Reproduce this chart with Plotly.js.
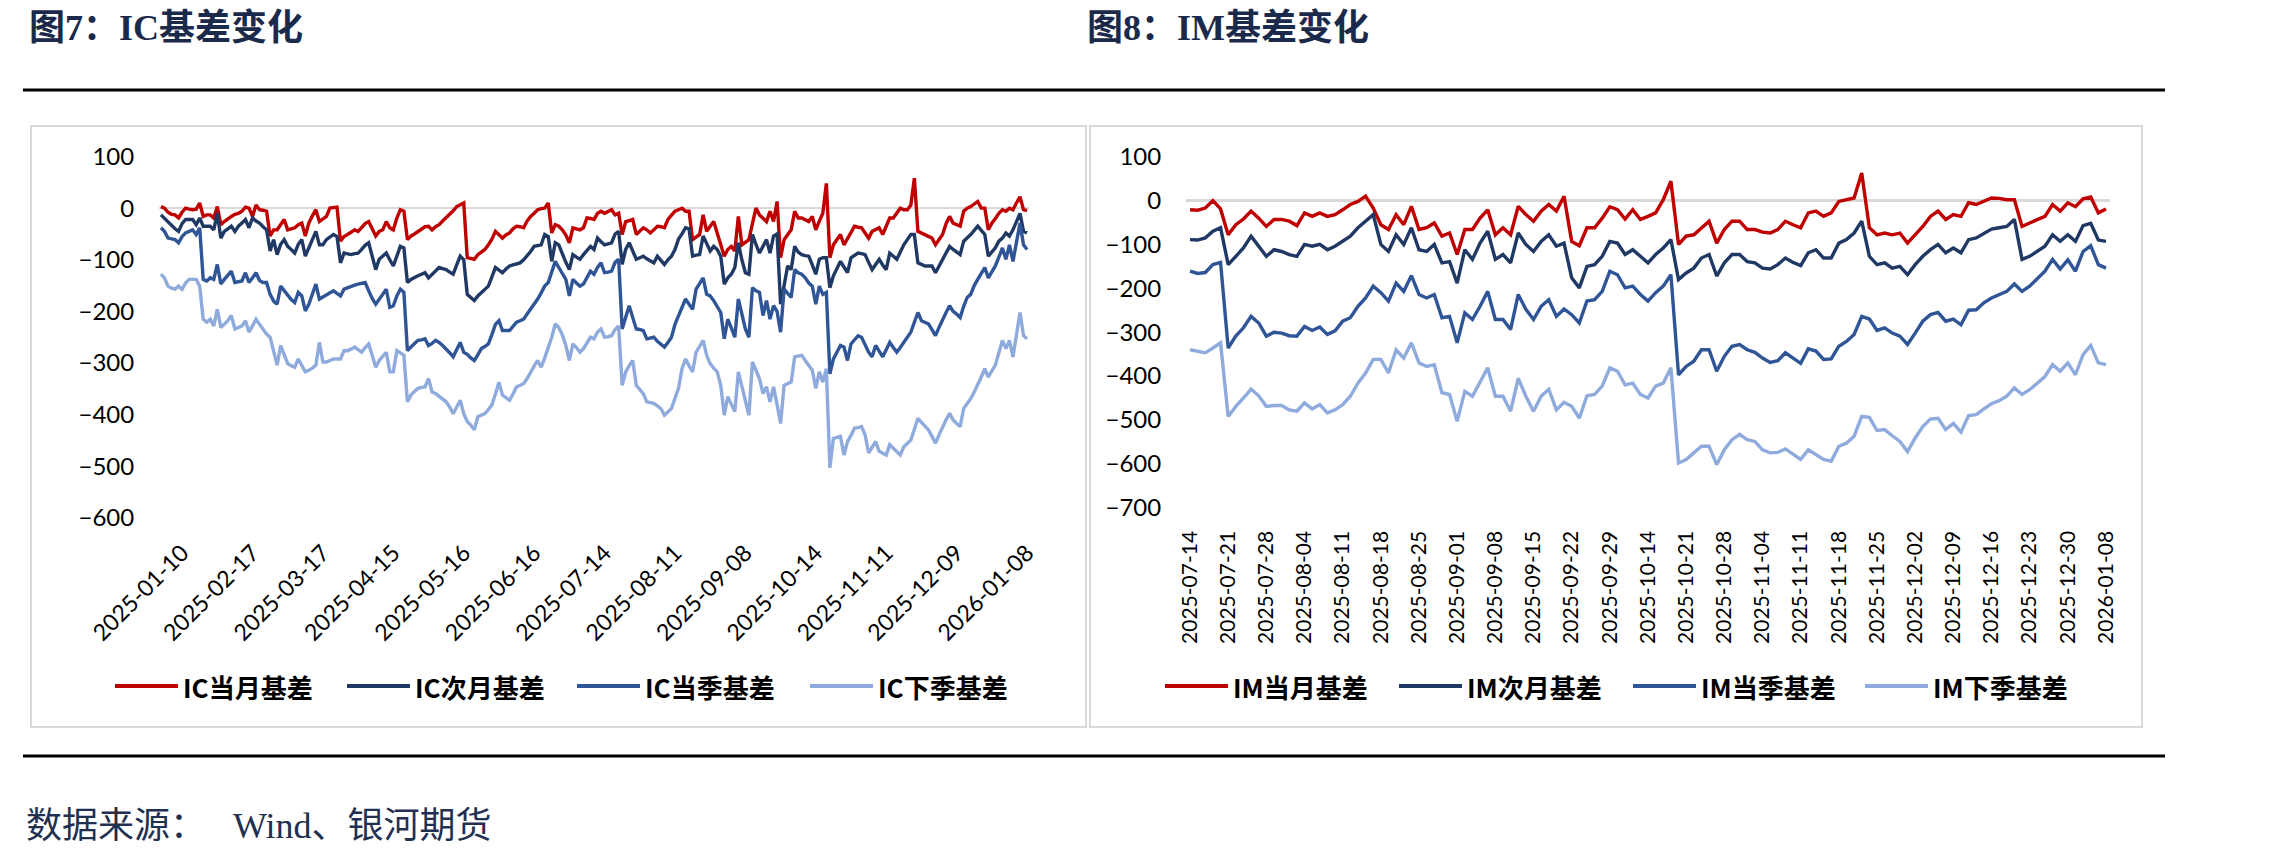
<!DOCTYPE html>
<html>
<head>
<meta charset="utf-8">
<script src="https://cdn.plot.ly/plotly-3.0.1.min.js"></script>
<style>
html,body{margin:0;padding:0;background:#fff;}
#chart{width:2287px;height:854px;}
</style>
</head>
<body>
<div id="chart"></div>
<script>
// ---------------- DATA ----------------
// Exchange holidays falling on weekdays (used to build the trading-day categories)
const HOLIDAYS = ['2025-01-01','2025-01-28','2025-01-29','2025-01-30','2025-01-31','2025-02-03','2025-02-04',
  '2025-04-04','2025-05-01','2025-05-02','2025-05-05','2025-06-02',
  '2025-10-01','2025-10-02','2025-10-03','2025-10-06','2025-10-07','2025-10-08',
  '2026-01-01','2026-01-02'];
const IC_START = '2025-01-02';
const IM_START = '2025-07-14';
const END_DATE = '2026-01-08';

const IC_TICKS = ['2025-01-10','2025-02-17','2025-03-17','2025-04-15','2025-05-16','2025-06-16','2025-07-14',
  '2025-08-11','2025-09-08','2025-10-14','2025-11-11','2025-12-09','2026-01-08'];
const IM_TICKS = ['2025-07-14','2025-07-21','2025-07-28','2025-08-04','2025-08-11','2025-08-18','2025-08-25',
  '2025-09-01','2025-09-08','2025-09-15','2025-09-22','2025-09-29','2025-10-14','2025-10-21','2025-10-28',
  '2025-11-04','2025-11-11','2025-11-18','2025-11-25','2025-12-02','2025-12-09','2025-12-16','2025-12-23',
  '2025-12-30','2026-01-08'];

const IC_NAMES = ['IC当月基差','IC次月基差','IC当季基差','IC下季基差'];
const IM_NAMES = ['IM当月基差','IM次月基差','IM当季基差','IM下季基差'];

const IC_DANGYUE = [3,0,-8,-12,-13,-19,-8,0,-2,-3,
 -2,10,-16,-13,-13,-19,3,-32,-26,-20,
 -16,-12,-10,-6,2,0,-16,6,-3,-4,
 -6,-54,-42,-42,-32,-22,-42,-40,-38,-32,
 -29,-54,-29,-15,-3,-26,-20,-16,0,1,
 2,-64,-55,-51,-46,-42,-45,-38,-30,-26,
 -40,-54,-45,-42,-26,-38,-42,-19,-3,-6,
 -61,-54,-50,-45,-40,-36,-35,-42,-36,-32,
 -25,-19,-13,-5,3,6,10,-96,-98,-99,
 -90,-84,-80,-71,-60,-45,-52,-58,-52,-48,
 -40,-35,-36,-38,-25,-16,-10,-3,-1,0,
 10,-48,-32,-35,-42,-52,-67,-38,-40,-42,
 -38,-19,-20,-22,-10,-6,-10,-6,-3,-13,
 -10,-51,-26,-24,-22,-51,-45,-38,-42,-48,
 -42,-35,-36,-38,-22,-14,-6,-3,0,-6,
 -6,-61,-55,-51,-13,-45,-35,-26,-48,-70,
 -93,-80,-74,-83,-16,-71,-66,-61,-30,0,
 -13,-20,-26,-6,-26,13,-96,-61,-50,-42,
 -6,-19,-19,-22,-26,-16,-42,-25,-10,48,
 -96,-71,-60,-51,-71,-60,-48,-35,-37,-38,
 -48,-58,-45,-42,-38,-51,-35,-19,-19,-10,
 0,-3,-3,6,58,-45,-48,-51,-54,-58,
 -71,-60,-51,-30,-16,-29,-32,-35,-6,0,
 3,8,13,0,0,-42,-29,-20,-10,-3,
 -6,0,-3,10,22,-3,-5];

const IC_CIYUE = [-13,-20,-26,-35,-40,-45,-30,-22,-22,-22,
 -32,-19,-35,-35,-35,-42,-10,-58,-45,-40,
 -35,-45,-35,-29,-22,-38,-19,-25,-29,-36,
 -42,-83,-61,-90,-70,-61,-74,-80,-87,-70,
 -61,-93,-77,-60,-45,-71,-71,-61,-55,-51,
 -55,-106,-87,-88,-90,-88,-87,-80,-72,-67,
 -95,-119,-99,-92,-87,-100,-112,-93,-74,-77,
 -144,-138,-134,-131,-128,-125,-135,-128,-122,-115,
 -117,-119,-124,-128,-110,-93,-100,-167,-173,-179,
 -170,-163,-157,-151,-133,-115,-120,-125,-118,-112,
 -110,-108,-106,-100,-93,-84,-74,-72,-71,-51,
 -55,-103,-67,-71,-90,-105,-119,-90,-95,-99,
 -90,-82,-74,-80,-58,-65,-71,-69,-67,-50,
 -45,-109,-80,-67,-85,-99,-96,-93,-98,-102,
 -106,-93,-100,-109,-100,-93,-80,-60,-50,-38,
 -40,-93,-91,-90,-54,-70,-83,-74,-80,-93,
 -147,-135,-128,-115,-67,-100,-125,-128,-51,-70,
 -87,-74,-61,-87,-54,-50,-186,-150,-112,-119,
 -74,-85,-90,-92,-93,-110,-128,-99,-96,-96,
 -154,-131,-117,-103,-114,-125,-96,-92,-87,-88,
 -90,-105,-119,-109,-99,-110,-119,-87,-93,-99,
 -85,-71,-61,-51,-51,-106,-109,-112,-112,-112,
 -125,-112,-99,-86,-74,-80,-85,-90,-64,-58,
 -51,-43,-35,-43,-51,-93,-85,-77,-64,-58,
 -48,-54,-42,-26,-10,-45,-48];

const IC_DANGJI = [-38,-45,-58,-60,-61,-67,-55,-48,-45,-42,
 -51,-38,-138,-141,-135,-138,-109,-147,-138,-130,
 -122,-144,-142,-141,-125,-144,-135,-125,-140,-144,
 -144,-167,-180,-186,-151,-160,-170,-177,-183,-163,
 -170,-199,-186,-165,-147,-176,-172,-167,-163,-160,
 -165,-170,-157,-154,-151,-149,-147,-146,-144,-160,
 -175,-186,-176,-167,-157,-192,-189,-170,-157,-163,
 -276,-269,-262,-256,-255,-253,-266,-262,-256,-260,
 -266,-272,-280,-288,-274,-260,-279,-283,-290,-295,
 -284,-272,-268,-263,-245,-225,-218,-237,-237,-237,
 -229,-221,-218,-215,-205,-196,-186,-176,-164,-151,
 -144,-125,-103,-115,-126,-138,-170,-138,-145,-151,
 -147,-135,-122,-128,-115,-106,-125,-124,-122,-105,
 -99,-234,-210,-189,-212,-234,-235,-237,-253,-251,
 -250,-258,-263,-269,-260,-250,-225,-208,-190,-176,
 -186,-196,-157,-146,-135,-167,-170,-179,-190,-202,
 -253,-215,-232,-250,-176,-205,-234,-250,-154,-160,
 -163,-208,-179,-215,-189,-200,-240,-157,-165,-173,
 -119,-125,-128,-135,-145,-151,-186,-151,-167,-163,
 -321,-292,-279,-266,-269,-295,-263,-255,-247,-250,
 -265,-279,-288,-266,-277,-288,-274,-260,-270,-279,
 -270,-260,-250,-240,-221,-202,-218,-221,-224,-235,
 -247,-231,-215,-202,-189,-200,-205,-212,-190,-173,
 -167,-150,-138,-125,-115,-135,-124,-112,-95,-77,
 -99,-71,-103,-65,-29,-71,-80];

const IC_XIAJI = [-128,-135,-151,-155,-157,-151,-157,-145,-138,-138,
 -138,-151,-215,-221,-215,-228,-196,-231,-225,-218,
 -208,-234,-231,-228,-218,-240,-228,-215,-225,-234,
 -244,-250,-275,-304,-266,-283,-301,-305,-308,-292,
 -305,-317,-314,-310,-304,-260,-298,-298,-295,-292,
 -292,-292,-276,-276,-273,-269,-274,-279,-270,-263,
 -285,-308,-295,-287,-279,-317,-317,-276,-280,-285,
 -375,-362,-355,-349,-347,-346,-330,-356,-359,-365,
 -369,-375,-385,-398,-385,-372,-398,-413,-420,-429,
 -404,-401,-398,-390,-381,-360,-337,-362,-367,-372,
 -360,-346,-343,-340,-330,-317,-306,-295,-308,-290,
 -272,-250,-224,-231,-245,-266,-295,-263,-270,-279,
 -272,-261,-250,-253,-240,-234,-250,-249,-247,-235,
 -228,-343,-317,-305,-295,-343,-350,-359,-375,-377,
 -378,-383,-388,-401,-395,-388,-368,-349,-311,-292,
 -305,-317,-279,-268,-256,-285,-301,-310,-317,-343,
 -401,-365,-380,-394,-317,-346,-375,-401,-298,-314,
 -330,-359,-346,-375,-346,-380,-417,-343,-340,-337,
 -288,-286,-285,-295,-305,-314,-349,-317,-337,-311,
 -503,-446,-444,-442,-478,-452,-440,-426,-425,-423,
 -439,-474,-463,-452,-471,-475,-478,-458,-465,-471,
 -478,-462,-455,-449,-428,-407,-415,-423,-429,-442,
 -455,-439,-423,-410,-397,-410,-417,-423,-388,-378,
 -369,-356,-343,-327,-311,-327,-315,-304,-280,-256,
 -272,-256,-288,-245,-202,-247,-253];

const IM_DANGYUE = [-21,-22,-17,0,-19,-78,-55,-42,-24,-40,
 -59,-43,-43,-47,-57,-28,-36,-28,-36,-32,
 -21,-9,-2,10,-17,-55,-66,-32,-55,-13,
 -66,-62,-51,-81,-74,-123,-66,-66,-40,-21,
 -78,-62,-78,-13,-32,-47,-24,-9,-24,10,
 -93,-103,-62,-62,-40,-14,-21,-42,-21,-43,
 -36,-28,2,44,-100,-81,-78,-62,-47,-97,
 -66,-47,-47,-66,-66,-72,-74,-66,-47,-55,
 -62,-28,-24,-36,-28,-2,2,6,63,-62,
 -78,-74,-78,-74,-97,-78,-59,-36,-24,-43,
 -32,-36,-5,-9,-2,6,5,2,2,-59,
 -51,-43,-36,-9,-24,-5,-14,4,8,-28,
 -19];

const IM_CIYUE = [-89,-90,-85,-70,-62,-146,-127,-108,-81,-104,
 -127,-112,-116,-123,-127,-100,-104,-100,-112,-104,
 -93,-81,-62,-47,-32,-100,-116,-78,-100,-62,
 -112,-116,-100,-142,-139,-188,-112,-134,-97,-70,
 -134,-123,-142,-74,-100,-116,-93,-78,-104,-97,
 -176,-199,-150,-146,-127,-93,-97,-123,-112,-127,
 -142,-123,-108,-89,-180,-165,-154,-131,-123,-172,
 -142,-123,-123,-139,-142,-154,-156,-146,-131,-141,
 -148,-119,-112,-131,-131,-97,-89,-74,-47,-127,
 -146,-142,-154,-150,-169,-146,-127,-112,-100,-119,
 -108,-119,-89,-85,-74,-65,-62,-59,-43,-134,
 -127,-116,-104,-78,-93,-78,-93,-57,-52,-90,
 -93];

const IM_DANGJI = [-161,-166,-164,-146,-141,-336,-309,-290,-264,-279,
 -309,-300,-302,-308,-309,-287,-296,-288,-305,-297,
 -275,-267,-241,-222,-195,-210,-229,-188,-207,-171,
 -214,-222,-214,-267,-264,-324,-256,-271,-241,-207,
 -271,-271,-294,-214,-248,-271,-241,-226,-264,-247,
 -260,-279,-229,-226,-207,-161,-169,-199,-195,-214,
 -229,-210,-195,-169,-397,-378,-366,-340,-340,-389,
 -355,-332,-328,-340,-346,-359,-369,-365,-347,-360,
 -371,-338,-343,-362,-361,-332,-321,-305,-264,-270,
 -296,-290,-302,-309,-328,-302,-275,-260,-255,-275,
 -270,-283,-250,-249,-233,-222,-214,-207,-190,-207,
 -195,-179,-161,-134,-156,-135,-161,-116,-103,-146,
 -154];

const IM_XIAJI = [-340,-344,-347,-336,-324,-492,-469,-450,-430,-445,
 -469,-467,-467,-477,-480,-461,-475,-465,-484,-477,
 -465,-446,-416,-393,-362,-362,-393,-340,-359,-324,
 -370,-378,-374,-438,-442,-503,-435,-446,-412,-381,
 -446,-446,-480,-405,-446,-480,-446,-430,-477,-460,
 -469,-496,-445,-442,-423,-381,-389,-420,-416,-442,
 -450,-423,-416,-381,-598,-590,-575,-560,-560,-602,
 -568,-545,-533,-545,-549,-568,-575,-574,-566,-577,
 -590,-568,-579,-590,-594,-560,-553,-537,-492,-494,
 -524,-522,-536,-549,-572,-541,-515,-498,-496,-522,
 -508,-528,-490,-488,-475,-463,-456,-446,-427,-442,
 -431,-416,-401,-374,-389,-370,-397,-351,-330,-370,
 -374];

// ---------------- BUILD ----------------
function tradingDays(start, end) {
  const out = [];
  const d = new Date(start + 'T00:00:00Z');
  const e = new Date(end + 'T00:00:00Z');
  while (d <= e) {
    const wd = d.getUTCDay();
    const s = d.toISOString().slice(0, 10);
    if (wd !== 0 && wd !== 6 && HOLIDAYS.indexOf(s) < 0) out.push(s);
    d.setUTCDate(d.getUTCDate() + 1);
  }
  return out;
}
const IC_DATES = tradingDays(IC_START, END_DATE);
const IM_DATES = tradingDays(IM_START, END_DATE);

const W = 2287, H = 854;
const px = x => x / W;
const py = y => 1 - y / H;

const COLORS = ['#C00000', '#203864', '#2F5597', '#8FAADC'];
const LINE_W = 3.4;

const IC_SERIES = [IC_DANGYUE, IC_CIYUE, IC_DANGJI, IC_XIAJI];
const IM_SERIES = [IM_DANGYUE, IM_CIYUE, IM_DANGJI, IM_XIAJI];

const traces = [];
IC_SERIES.forEach((ys, k) => traces.push({
  type: 'scatter', mode: 'lines', name: IC_NAMES[k], x: IC_DATES, y: ys,
  xaxis: 'x', yaxis: 'y', line: {color: COLORS[k], width: LINE_W}, showlegend: false, hoverinfo: 'skip'
}));
IM_SERIES.forEach((ys, k) => traces.push({
  type: 'scatter', mode: 'lines', name: IM_NAMES[k], x: IM_DATES, y: ys,
  xaxis: 'x2', yaxis: 'y2', line: {color: COLORS[k], width: LINE_W}, showlegend: false, hoverinfo: 'skip'
}));

const TICK_FAMILY = 'Lato, "Liberation Sans", Arial, sans-serif';
const yTickFont = {family: TICK_FAMILY, size: 24, color: '#000'};

function xAxis(dates, ticks, x0, x1, angle, anchor, standoff, fsize) {
  return {
    type: 'category', domain: [px(x0), px(x1)], range: [-0.5, dates.length - 0.5], anchor: anchor,
    showgrid: false, zeroline: false, showline: false, ticks: '',
    tickmode: 'array', tickvals: ticks, ticktext: ticks, tickangle: angle,
    tickfont: {family: TICK_FAMILY, size: fsize, color: '#000'},
    ticklabelstandoff: standoff, automargin: false, fixedrange: true
  };
}
function yAxis(lo, hi, yBottom, yTop, anchor) {
  return {
    domain: [py(yBottom), py(yTop)], range: [lo, hi], anchor: anchor,
    tickmode: 'linear', tick0: 0, dtick: 100,
    showgrid: false, zeroline: true, zerolinecolor: '#D9D9D9', zerolinewidth: 2.5,
    showline: false, ticks: '', tickfont: yTickFont, ticklabelstandoff: 24,
    automargin: false, fixedrange: true
  };
}

const shapes = [
  // black rules
  {type: 'line', xref: 'paper', yref: 'paper', x0: px(23), x1: px(2165), y0: py(90), y1: py(90), line: {color: '#000', width: 3}},
  {type: 'line', xref: 'paper', yref: 'paper', x0: px(23), x1: px(2165), y0: py(756), y1: py(756), line: {color: '#000', width: 3}},
  // chart frames
  {type: 'rect', xref: 'paper', yref: 'paper', x0: px(31), x1: px(1086), y0: py(727), y1: py(126), line: {color: '#D9D9D9', width: 2}},
  {type: 'rect', xref: 'paper', yref: 'paper', x0: px(1090), x1: px(2142), y0: py(727), y1: py(126), line: {color: '#D9D9D9', width: 2}}
];

const annotations = [];
const TITLE_FONT = {family: '"Liberation Serif", "Noto Sans CJK SC", serif', size: 36, color: '#1B2A4A', weight: 700};
annotations.push({xref: 'paper', yref: 'paper', x: px(27), y: py(28), xanchor: 'left', yanchor: 'middle',
  text: '图7：IC基差变化', showarrow: false, font: TITLE_FONT});
annotations.push({xref: 'paper', yref: 'paper', x: px(1085), y: py(28), xanchor: 'left', yanchor: 'middle',
  text: '图8：IM基差变化', showarrow: false, font: TITLE_FONT});
annotations.push({xref: 'paper', yref: 'paper', x: px(24), y: py(826), xanchor: 'left', yanchor: 'middle',
  text: '数据来源：\u00A0\u00A0\u00A0Wind、银河期货', showarrow: false,
  font: {family: '"Liberation Serif", "Noto Sans CJK SC", serif', size: 36, color: '#1F3050', weight: 400}});

// manual legends (line sample + label)
const LEG_FONT = {family: '"Noto Sans CJK SC", sans-serif', size: 26, color: '#000', weight: 700};
const LEG_Y = 686;
const IC_LEG_X = [115, 347, 577, 810];
const IM_LEG_X = [1165, 1399, 1633, 1865];
function addLegend(names, xs) {
  names.forEach((nm, k) => {
    shapes.push({type: 'line', xref: 'paper', yref: 'paper', x0: px(xs[k]), x1: px(xs[k] + 63),
      y0: py(LEG_Y), y1: py(LEG_Y), line: {color: COLORS[k], width: 4}});
    annotations.push({xref: 'paper', yref: 'paper', x: px(xs[k] + 66), y: py(LEG_Y), xanchor: 'left', yanchor: 'middle',
      text: nm, showarrow: false, font: LEG_FONT});
  });
}
addLegend(IC_NAMES, IC_LEG_X);
addLegend(IM_NAMES, IM_LEG_X);

const layout = {
  width: W, height: H, margin: {l: 0, r: 0, t: 0, b: 0},
  paper_bgcolor: '#fff', plot_bgcolor: 'rgba(0,0,0,0)', showlegend: false,
  xaxis: xAxis(IC_DATES, IC_TICKS, 159.2, 1028.8, -45, 'y', 16, 23),
  yaxis: yAxis(-600, 100, 518, 156.5, 'x'),
  xaxis2: xAxis(IM_DATES, IM_TICKS, 1186.2, 2109.8, -90, 'y2', 18, 21),
  yaxis2: yAxis(-700, 100, 507.7, 156.7, 'x2'),
  shapes: shapes, annotations: annotations
};

Plotly.newPlot('chart', traces, layout, {staticPlot: true, displayModeBar: false});
</script>
</body>
</html>
